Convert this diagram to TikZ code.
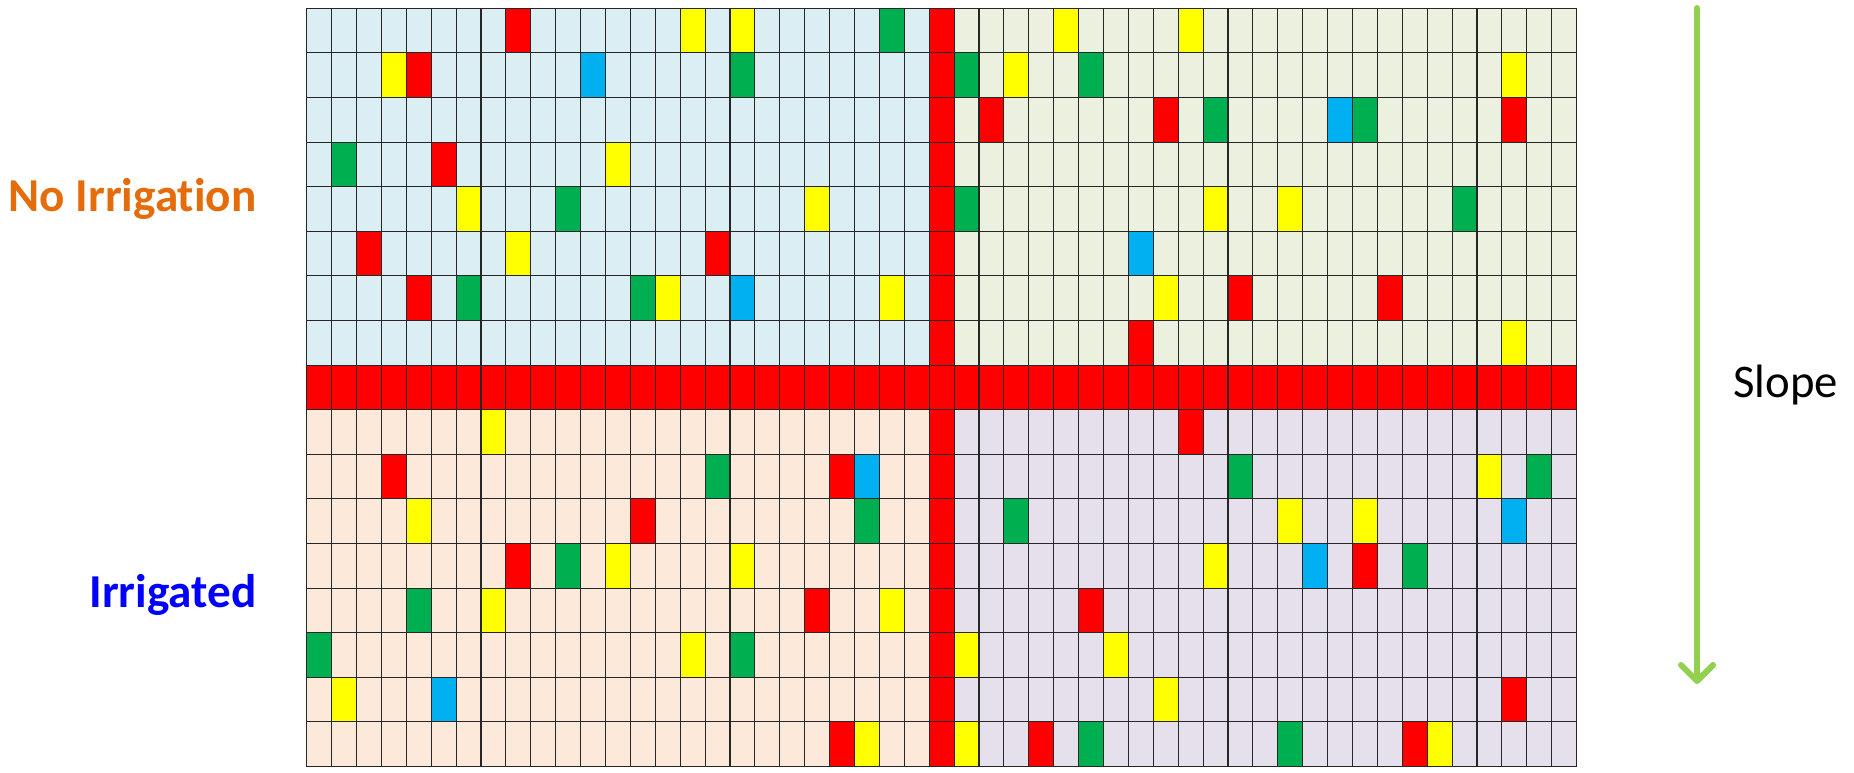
\documentclass[tikz,border=0pt]{standalone}
\usepackage{fontspec}
\setmainfont[Ligatures={NoCommon,NoContextual},RawFeature={-liga;-clig}]{Carlito}
\usetikzlibrary{arrows.meta,positioning}
\definecolor{dry}{HTML}{DAEEF3}
\definecolor{dryslope}{HTML}{EBF1DE}
\definecolor{wet}{HTML}{FDE9D9}
\definecolor{wetslope}{HTML}{E5E0EC}
\definecolor{plotred}{HTML}{FF0000}
\definecolor{plotyellow}{HTML}{FFFF00}
\definecolor{plotgreen}{HTML}{00B050}
\definecolor{plotblue}{HTML}{00B0F0}
\definecolor{noirr}{HTML}{E46C0A}
\definecolor{irr}{HTML}{0000FF}
\definecolor{slopegreen}{HTML}{92D050}
\tikzset{
  gridline/.style={draw=black!85,line width=0.55pt},
  sidelabel/.style={inner sep=0pt,anchor=base east,font=\fontsize{23.6pt}{28pt}\selectfont\bfseries},
  slopelabel/.style={inner sep=0pt,anchor=base west,font=\fontsize{23.4pt}{28pt}\selectfont},
  slopearrow/.style={-{Straight Barb[length=8pt,width=16pt,round]},slopegreen,line width=3pt,line cap=round},
}

\begin{document}
\begin{tikzpicture}[x=0.5pt,y=-0.5pt]
\useasboundingbox (0,0) rectangle (1854,772);
% field plots, one cell per plot
\begin{scope}[shift={(306.7,8.3)},x=12.45pt,y=-22.3pt]
\fill[dry] (0,0) rectangle (25,8);
\fill[dryslope] (26,0) rectangle (51,8);
\fill[wet] (0,9) rectangle (25,17);
\fill[wetslope] (26,9) rectangle (51,17);
\fill[plotred] (25,0) rectangle (26,17);
\fill[plotred] (0,8) rectangle (51,9);
\foreach \c/\r in {8/0,4/1,27/2,34/2,48/2,5/3,2/5,16/5,4/6,37/6,43/6,33/7,
  35/9,3/10,21/10,13/11,8/12,42/12,20/13,31/13,48/15,21/16,29/16,44/16}
  \fill[plotred] (\c,\r) rectangle ++(1,1);
\foreach \c/\r in {15/0,17/0,30/0,35/0,3/1,28/1,48/1,12/3,6/4,20/4,36/4,39/4,8/5,14/6,23/6,34/6,48/7,
  7/9,47/10,4/11,39/11,42/11,12/12,17/12,36/12,7/13,23/13,15/14,26/14,32/14,1/15,34/15,22/16,26/16,45/16}
  \fill[plotyellow] (\c,\r) rectangle ++(1,1);
\foreach \c/\r in {23/0,17/1,26/1,31/1,36/2,42/2,1/3,10/4,26/4,46/4,6/6,13/6,
  16/10,37/10,49/10,22/11,28/11,10/12,44/12,4/13,0/14,17/14,31/16,39/16}
  \fill[plotgreen] (\c,\r) rectangle ++(1,1);
\foreach \c/\r in {11/1,41/2,33/5,17/6,22/10,48/11,40/12,5/15}
  \fill[plotblue] (\c,\r) rectangle ++(1,1);
\foreach \c in {0,...,51}
  \draw[gridline] (\c,0) -- (\c,17);
\foreach \r in {0,...,17}
  \draw[gridline] (0,\r) -- (51,\r);
\end{scope}
% labels
\node[sidelabel,text=noirr] (noirrigation) at (257,211.7) {No Irrigat\kern0pt ion};
\node[sidelabel,text=irr] (irrigated) at (257,607) {Irrigated};
\coordinate (slopetop) at (1697,8);
\coordinate (slopeend) at (1697,684);
\draw[slopearrow] (slopetop) -- (slopeend);
\node[slopelabel] (slope) at (1733,397) {Slope};
\end{tikzpicture}
\end{document}
